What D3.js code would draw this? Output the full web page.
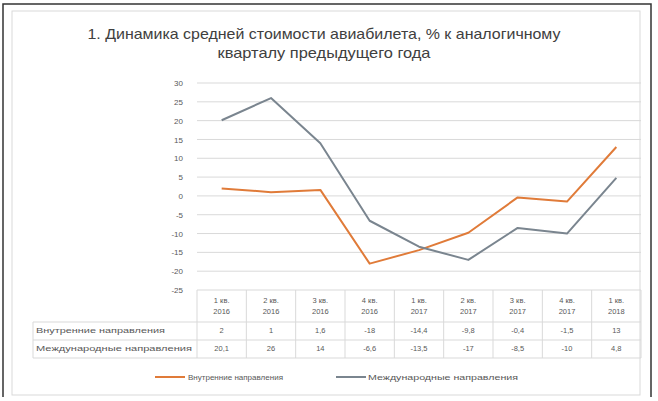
<!DOCTYPE html>
<html><head><meta charset="utf-8">
<script src="https://cdn.jsdelivr.net/npm/d3@7"></script>
<style>body{margin:0;background:#fff}svg{display:block}text{font-family:"Liberation Sans",Arial,sans-serif}</style>
</head><body><svg id="c" width="658" height="401"></svg>
<script>
const titleLines = ["1. Динамика средней стоимости авиабилета, % к аналогичному", "кварталу предыдущего года"];
const categories = [["1 кв.","2016"],["2 кв.","2016"],["3 кв.","2016"],["4 кв.","2016"],["1 кв.","2017"],["2 кв.","2017"],["3 кв.","2017"],["4 кв.","2017"],["1 кв.","2018"]];
const seriesNames = ["Внутренние направления", "Международные направления"];
const domestic = [2, 1, 1.6, -18, -14.4, -9.8, -0.4, -1.5, 13];
const international = [20.1, 26, 14, -6.6, -13.5, -17, -8.5, -10, 4.8];
const yTicks = [30, 25, 20, 15, 10, 5, 0, -5, -10, -15, -20, -25];
const colors = ["#E07B39", "#7A858F"];

const svg = d3.select("#c");
// frame
svg.append("rect").attr("x",12).attr("y",11).attr("width",628).attr("height",384).attr("fill","none").attr("stroke","#d9d9d9");
svg.append("path").attr("d","M3,397 V4 H651 V397").attr("fill","none").attr("stroke","#333").attr("stroke-width",1.5);

// title
const tW = [473, 213];
svg.selectAll("text.title").data(titleLines).join("text").attr("class","title")
  .attr("x",324).attr("y",(d,i)=>39+i*19).attr("text-anchor","middle")
  .attr("font-size",15).attr("fill","#404040")
  .attr("textLength",(d,i)=>tW[i]).attr("lengthAdjust","spacingAndGlyphs").text(d=>d);

const x0 = 197, x1 = 641;
const x = d3.scaleBand().domain(d3.range(categories.length)).range([x0,x1]);
const y = d3.scaleLinear().domain([-25,30]).range([290,83]);

// grid
svg.append("g").selectAll("line").data(yTicks).join("line")
  .attr("x1",x0).attr("x2",x1).attr("y1",d=>y(d)).attr("y2",d=>y(d))
  .attr("stroke","#d9d9d9").attr("stroke-width",1);
const ya = svg.append("g").attr("transform",`translate(${x0},0)`)
  .call(d3.axisLeft(y).tickValues(yTicks).tickSize(0).tickPadding(14).tickFormat(d=>String(d)));
ya.select(".domain").remove();
ya.selectAll("text").attr("font-size",8).attr("fill","#595959").attr("font-family","Liberation Sans, Arial");

// lines
const line = d3.line().x((d,i)=>x(i)+x.bandwidth()/2).y(d=>y(d));
[domestic, international].forEach((s,k)=>{
  svg.append("path").datum(s).attr("d",line).attr("fill","none")
    .attr("stroke",colors[k]).attr("stroke-width",2).attr("stroke-linejoin","round");
});

// data table
const tb = svg.append("g");
const fmt = v => (Math.round(v*10)/10).toString().replace(".",",");
x.domain().forEach(i=>{
  tb.append("line").attr("x1",x(i)).attr("x2",x(i)).attr("y1",290).attr("y2",358).attr("stroke","#d9d9d9");
  categories[i].forEach((t,j)=>tb.append("text").attr("x",x(i)+x.bandwidth()/2).attr("y",303+j*11)
    .attr("text-anchor","middle").attr("font-size",7.5).attr("fill","#595959").text(t));
  [domestic, international].forEach((s,k)=>tb.append("text").attr("x",x(i)+x.bandwidth()/2).attr("y",333+k*18)
    .attr("text-anchor","middle").attr("font-size",7.5).attr("fill","#595959").text(fmt(s[i])));
});
tb.append("line").attr("x1",x1).attr("x2",x1).attr("y1",290).attr("y2",358).attr("stroke","#d9d9d9");
tb.append("line").attr("x1",33).attr("x2",33).attr("y1",322).attr("y2",358).attr("stroke","#d9d9d9");
[322,340,358].forEach(yy=>tb.append("line").attr("x1",33).attr("x2",x1).attr("y1",yy).attr("y2",yy).attr("stroke","#d9d9d9"));
const rowW = [129,156];
seriesNames.forEach((n,k)=>tb.append("text").attr("x",36).attr("y",333+k*18).attr("font-size",7.5)
  .attr("fill","#595959").attr("textLength",rowW[k]).attr("lengthAdjust","spacingAndGlyphs").text(n));

// legend
const lg = [{x:155,tx:188,tw:95},{x:336,tx:368,tw:150}];
seriesNames.forEach((n,k)=>{
  svg.append("line").attr("x1",lg[k].x).attr("x2",lg[k].x+30).attr("y1",377).attr("y2",377)
    .attr("stroke",colors[k]).attr("stroke-width",2);
  svg.append("text").attr("x",lg[k].tx).attr("y",380).attr("font-size",7.5).attr("fill","#595959")
    .attr("textLength",lg[k].tw).attr("lengthAdjust","spacingAndGlyphs").text(n);
});
</script></body></html>
